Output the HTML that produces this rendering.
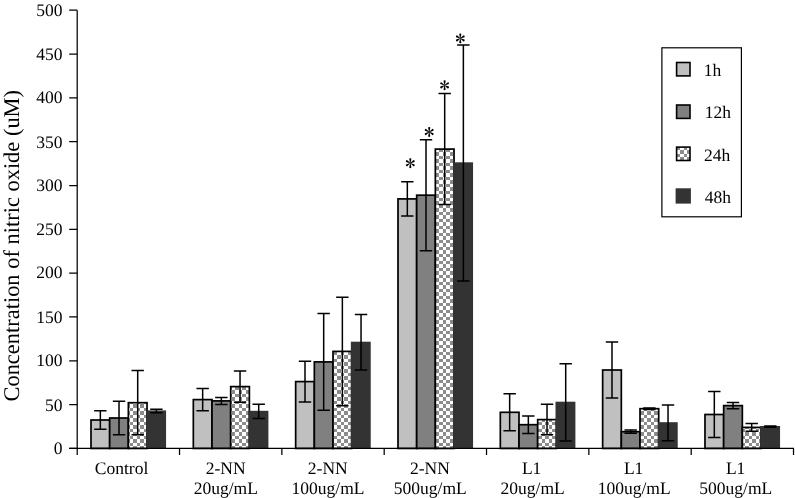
<!DOCTYPE html>
<html><head><meta charset="utf-8"><style>
html,body{margin:0;padding:0;background:#fff;}
body{width:795px;height:498px;overflow:hidden;font-family:"Liberation Serif",serif;}
svg{display:block;will-change:transform;}
text{font-family:"Liberation Serif",serif;fill:#000;text-rendering:geometricPrecision;}
</style></head><body>
<svg width="795" height="498" viewBox="0 0 795 498">
<defs><pattern id="chk0" patternUnits="userSpaceOnUse" x="0" y="5" width="7" height="7"><rect width="7" height="7" fill="#ffffff"/><rect width="4" height="4" fill="#8c8c8c"/><rect x="4" y="4" width="3" height="3" fill="#8c8c8c"/></pattern><pattern id="chk1" patternUnits="userSpaceOnUse" x="4" y="5" width="7" height="7"><rect width="7" height="7" fill="#8c8c8c"/><rect width="4" height="4" fill="#ffffff"/><rect x="4" y="4" width="3" height="3" fill="#ffffff"/></pattern><pattern id="chk2" patternUnits="userSpaceOnUse" x="1" y="5" width="7" height="7"><rect width="7" height="7" fill="#ffffff"/><rect width="4" height="4" fill="#8c8c8c"/><rect x="4" y="4" width="3" height="3" fill="#8c8c8c"/></pattern><pattern id="chk3" patternUnits="userSpaceOnUse" x="5" y="5" width="7" height="7"><rect width="7" height="7" fill="#8c8c8c"/><rect width="4" height="4" fill="#ffffff"/><rect x="4" y="4" width="3" height="3" fill="#ffffff"/></pattern><pattern id="chk4" patternUnits="userSpaceOnUse" x="6" y="5" width="7" height="7"><rect width="7" height="7" fill="#8c8c8c"/><rect width="4" height="4" fill="#ffffff"/><rect x="4" y="4" width="3" height="3" fill="#ffffff"/></pattern><pattern id="chk5" patternUnits="userSpaceOnUse" x="3" y="5" width="7" height="7"><rect width="7" height="7" fill="#ffffff"/><rect width="4" height="4" fill="#8c8c8c"/><rect x="4" y="4" width="3" height="3" fill="#8c8c8c"/></pattern><pattern id="chk6" patternUnits="userSpaceOnUse" x="3" y="5" width="7" height="7"><rect width="7" height="7" fill="#ffffff"/><rect width="4" height="4" fill="#8c8c8c"/><rect x="4" y="4" width="3" height="3" fill="#8c8c8c"/></pattern><pattern id="chkL" patternUnits="userSpaceOnUse" x="1" y="3" width="7" height="7"><rect width="7" height="7" fill="#ffffff"/><rect width="4" height="4" fill="#8c8c8c"/><rect x="4" y="4" width="3" height="3" fill="#8c8c8c"/></pattern></defs>
<rect width="795" height="498" fill="#fff"/>
<rect x="91.00" y="420.00" width="18.68" height="28.45" fill="#c0c0c0" stroke="#000" stroke-width="1.7"/>
<rect x="109.68" y="418.00" width="18.68" height="30.45" fill="#808080" stroke="#000" stroke-width="1.7"/>
<rect x="128.36" y="402.70" width="18.68" height="45.75" fill="url(#chk0)" stroke="#000" stroke-width="1.7"/>
<rect x="146.19" y="410.40" width="19.88" height="38.05" fill="#333333"/>
<rect x="193.33" y="399.60" width="18.68" height="48.85" fill="#c0c0c0" stroke="#000" stroke-width="1.7"/>
<rect x="212.01" y="400.90" width="18.68" height="47.55" fill="#808080" stroke="#000" stroke-width="1.7"/>
<rect x="230.69" y="386.60" width="18.68" height="61.85" fill="url(#chk1)" stroke="#000" stroke-width="1.7"/>
<rect x="248.52" y="410.80" width="19.88" height="37.65" fill="#333333"/>
<rect x="295.66" y="381.60" width="18.68" height="66.85" fill="#c0c0c0" stroke="#000" stroke-width="1.7"/>
<rect x="314.34" y="361.90" width="18.68" height="86.55" fill="#808080" stroke="#000" stroke-width="1.7"/>
<rect x="333.02" y="351.40" width="18.68" height="97.05" fill="url(#chk2)" stroke="#000" stroke-width="1.7"/>
<rect x="350.85" y="341.70" width="19.88" height="106.75" fill="#333333"/>
<rect x="397.99" y="198.90" width="18.68" height="249.55" fill="#c0c0c0" stroke="#000" stroke-width="1.7"/>
<rect x="416.67" y="195.20" width="18.68" height="253.25" fill="#808080" stroke="#000" stroke-width="1.7"/>
<rect x="435.35" y="149.10" width="18.68" height="299.35" fill="url(#chk3)" stroke="#000" stroke-width="1.7"/>
<rect x="453.18" y="162.30" width="19.88" height="286.15" fill="#333333"/>
<rect x="500.32" y="412.30" width="18.68" height="36.15" fill="#c0c0c0" stroke="#000" stroke-width="1.7"/>
<rect x="519.00" y="424.70" width="18.68" height="23.75" fill="#808080" stroke="#000" stroke-width="1.7"/>
<rect x="537.68" y="419.60" width="18.68" height="28.85" fill="url(#chk4)" stroke="#000" stroke-width="1.7"/>
<rect x="555.51" y="401.70" width="19.88" height="46.75" fill="#333333"/>
<rect x="602.65" y="370.00" width="18.68" height="78.45" fill="#c0c0c0" stroke="#000" stroke-width="1.7"/>
<rect x="621.33" y="431.70" width="18.68" height="16.75" fill="#808080" stroke="#000" stroke-width="1.7"/>
<rect x="640.01" y="408.70" width="18.68" height="39.75" fill="url(#chk5)" stroke="#000" stroke-width="1.7"/>
<rect x="657.84" y="422.20" width="19.88" height="26.25" fill="#333333"/>
<rect x="704.98" y="414.50" width="18.68" height="33.95" fill="#c0c0c0" stroke="#000" stroke-width="1.7"/>
<rect x="723.66" y="405.60" width="18.68" height="42.85" fill="#808080" stroke="#000" stroke-width="1.7"/>
<rect x="742.34" y="427.40" width="18.68" height="21.05" fill="url(#chk6)" stroke="#000" stroke-width="1.7"/>
<rect x="760.17" y="426.00" width="19.88" height="22.45" fill="#333333"/>
<path d="M100.34 410.75V429.25M94.14 410.75H106.54M94.14 429.25H106.54" stroke="#000" stroke-width="1.5" fill="none"/>
<path d="M119.02 401.25V434.75M112.82 401.25H125.22M112.82 434.75H125.22" stroke="#000" stroke-width="1.5" fill="none"/>
<path d="M137.70 370.55V434.85M131.50 370.55H143.90M131.50 434.85H143.90" stroke="#000" stroke-width="1.5" fill="none"/>
<path d="M156.38 409.30V412.70M150.18 409.30H162.58M150.18 412.70H162.58" stroke="#000" stroke-width="1.5" fill="none"/>
<path d="M202.67 388.55V410.65M196.47 388.55H208.87M196.47 410.65H208.87" stroke="#000" stroke-width="1.5" fill="none"/>
<path d="M221.35 397.40V404.40M215.15 397.40H227.55M215.15 404.40H227.55" stroke="#000" stroke-width="1.5" fill="none"/>
<path d="M240.03 371.05V402.15M233.83 371.05H246.23M233.83 402.15H246.23" stroke="#000" stroke-width="1.5" fill="none"/>
<path d="M258.71 404.30V418.50M252.51 404.30H264.91M252.51 418.50H264.91" stroke="#000" stroke-width="1.5" fill="none"/>
<path d="M305.00 361.15V402.05M298.80 361.15H311.20M298.80 402.05H311.20" stroke="#000" stroke-width="1.5" fill="none"/>
<path d="M323.68 313.50V410.30M317.48 313.50H329.88M317.48 410.30H329.88" stroke="#000" stroke-width="1.5" fill="none"/>
<path d="M342.36 297.15V405.65M336.16 297.15H348.56M336.16 405.65H348.56" stroke="#000" stroke-width="1.5" fill="none"/>
<path d="M361.04 314.50V370.10M354.84 314.50H367.24M354.84 370.10H367.24" stroke="#000" stroke-width="1.5" fill="none"/>
<path d="M407.33 181.75V216.05M401.13 181.75H413.53M401.13 216.05H413.53" stroke="#000" stroke-width="1.5" fill="none"/>
<path d="M426.01 139.70V250.70M419.81 139.70H432.21M419.81 250.70H432.21" stroke="#000" stroke-width="1.5" fill="none"/>
<path d="M444.69 93.60V204.60M438.49 93.60H450.89M438.49 204.60H450.89" stroke="#000" stroke-width="1.5" fill="none"/>
<path d="M463.37 44.90V280.90M457.17 44.90H469.57M457.17 280.90H469.57" stroke="#000" stroke-width="1.5" fill="none"/>
<path d="M509.66 393.85V430.75M503.46 393.85H515.86M503.46 430.75H515.86" stroke="#000" stroke-width="1.5" fill="none"/>
<path d="M528.34 416.00V433.40M522.14 416.00H534.54M522.14 433.40H534.54" stroke="#000" stroke-width="1.5" fill="none"/>
<path d="M547.02 404.35V434.85M540.82 404.35H553.22M540.82 434.85H553.22" stroke="#000" stroke-width="1.5" fill="none"/>
<path d="M565.70 363.65V440.95M559.50 363.65H571.90M559.50 440.95H571.90" stroke="#000" stroke-width="1.5" fill="none"/>
<path d="M611.99 341.95V398.05M605.79 341.95H618.19M605.79 398.05H618.19" stroke="#000" stroke-width="1.5" fill="none"/>
<path d="M630.67 430.10V433.30M624.47 430.10H636.87M624.47 433.30H636.87" stroke="#000" stroke-width="1.5" fill="none"/>
<path d="M649.35 407.90V409.50M643.15 407.90H655.55M643.15 409.50H655.55" stroke="#000" stroke-width="1.5" fill="none"/>
<path d="M668.03 404.90V440.70M661.83 404.90H674.23M661.83 440.70H674.23" stroke="#000" stroke-width="1.5" fill="none"/>
<path d="M714.32 391.55V437.45M708.12 391.55H720.52M708.12 437.45H720.52" stroke="#000" stroke-width="1.5" fill="none"/>
<path d="M733.00 402.50V408.70M726.80 402.50H739.20M726.80 408.70H739.20" stroke="#000" stroke-width="1.5" fill="none"/>
<path d="M751.68 423.60V431.20M745.48 423.60H757.88M745.48 431.20H757.88" stroke="#000" stroke-width="1.5" fill="none"/>
<path d="M770.36 426.00V427.20M764.16 426.00H776.56M764.16 427.20H776.56" stroke="#000" stroke-width="1.5" fill="none"/>
<path d="M77.2 10.20V455M69.2 448.45H794" stroke="#000" stroke-width="1.25" fill="none"/>
<path d="M69.2 448.45H77.2M69.2 404.62H77.2M69.2 360.80H77.2M69.2 316.98H77.2M69.2 273.15H77.2M69.2 229.32H77.2M69.2 185.50H77.2M69.2 141.68H77.2M69.2 97.85H77.2M69.2 54.03H77.2M69.2 10.20H77.2M179.53 448.45V455M281.86 448.45V455M384.19 448.45V455M486.52 448.45V455M588.85 448.45V455M691.18 448.45V455M793.51 448.45V455" stroke="#000" stroke-width="1.25" fill="none"/>
<g transform="translate(410.3 163.2)" fill="#000"><path d="M-0.18 0L-0.95 -3.55A1.02 1.02 0 1 1 0.95 -3.55L0.18 0Z" transform="rotate(0)"/><path d="M-0.18 0L-0.95 -3.55A1.02 1.02 0 1 1 0.95 -3.55L0.18 0Z" transform="rotate(60)"/><path d="M-0.18 0L-0.95 -3.55A1.02 1.02 0 1 1 0.95 -3.55L0.18 0Z" transform="rotate(120)"/><path d="M-0.18 0L-0.95 -3.55A1.02 1.02 0 1 1 0.95 -3.55L0.18 0Z" transform="rotate(180)"/><path d="M-0.18 0L-0.95 -3.55A1.02 1.02 0 1 1 0.95 -3.55L0.18 0Z" transform="rotate(240)"/><path d="M-0.18 0L-0.95 -3.55A1.02 1.02 0 1 1 0.95 -3.55L0.18 0Z" transform="rotate(300)"/></g>
<g transform="translate(429.2 132.0)" fill="#000"><path d="M-0.18 0L-0.95 -3.55A1.02 1.02 0 1 1 0.95 -3.55L0.18 0Z" transform="rotate(0)"/><path d="M-0.18 0L-0.95 -3.55A1.02 1.02 0 1 1 0.95 -3.55L0.18 0Z" transform="rotate(60)"/><path d="M-0.18 0L-0.95 -3.55A1.02 1.02 0 1 1 0.95 -3.55L0.18 0Z" transform="rotate(120)"/><path d="M-0.18 0L-0.95 -3.55A1.02 1.02 0 1 1 0.95 -3.55L0.18 0Z" transform="rotate(180)"/><path d="M-0.18 0L-0.95 -3.55A1.02 1.02 0 1 1 0.95 -3.55L0.18 0Z" transform="rotate(240)"/><path d="M-0.18 0L-0.95 -3.55A1.02 1.02 0 1 1 0.95 -3.55L0.18 0Z" transform="rotate(300)"/></g>
<g transform="translate(444.6 85.3)" fill="#000"><path d="M-0.18 0L-0.95 -3.55A1.02 1.02 0 1 1 0.95 -3.55L0.18 0Z" transform="rotate(0)"/><path d="M-0.18 0L-0.95 -3.55A1.02 1.02 0 1 1 0.95 -3.55L0.18 0Z" transform="rotate(60)"/><path d="M-0.18 0L-0.95 -3.55A1.02 1.02 0 1 1 0.95 -3.55L0.18 0Z" transform="rotate(120)"/><path d="M-0.18 0L-0.95 -3.55A1.02 1.02 0 1 1 0.95 -3.55L0.18 0Z" transform="rotate(180)"/><path d="M-0.18 0L-0.95 -3.55A1.02 1.02 0 1 1 0.95 -3.55L0.18 0Z" transform="rotate(240)"/><path d="M-0.18 0L-0.95 -3.55A1.02 1.02 0 1 1 0.95 -3.55L0.18 0Z" transform="rotate(300)"/></g>
<g transform="translate(460.3 38.4)" fill="#000"><path d="M-0.18 0L-0.95 -3.55A1.02 1.02 0 1 1 0.95 -3.55L0.18 0Z" transform="rotate(0)"/><path d="M-0.18 0L-0.95 -3.55A1.02 1.02 0 1 1 0.95 -3.55L0.18 0Z" transform="rotate(60)"/><path d="M-0.18 0L-0.95 -3.55A1.02 1.02 0 1 1 0.95 -3.55L0.18 0Z" transform="rotate(120)"/><path d="M-0.18 0L-0.95 -3.55A1.02 1.02 0 1 1 0.95 -3.55L0.18 0Z" transform="rotate(180)"/><path d="M-0.18 0L-0.95 -3.55A1.02 1.02 0 1 1 0.95 -3.55L0.18 0Z" transform="rotate(240)"/><path d="M-0.18 0L-0.95 -3.55A1.02 1.02 0 1 1 0.95 -3.55L0.18 0Z" transform="rotate(300)"/></g>
<rect x="661.9" y="47.8" width="79.5" height="169" fill="none" stroke="#000" stroke-width="1.2"/>
<rect x="676.6" y="62.50" width="13.4" height="13.4" fill="#c0c0c0" stroke="#000" stroke-width="1.6"/>
<rect x="676.6" y="105.00" width="13.4" height="13.4" fill="#808080" stroke="#000" stroke-width="1.6"/>
<rect x="676.6" y="147.10" width="13.4" height="13.4" fill="url(#chkL)" stroke="#000" stroke-width="1.6"/>
<rect x="675.6" y="188.30" width="15.3" height="15.3" fill="#333333"/>
<text x="62.52" y="454.19" font-size="17.5" text-anchor="end">0</text>
<text x="62.52" y="410.64" font-size="17.5" text-anchor="end">50</text>
<text x="62.52" y="366.30" font-size="17.5" text-anchor="end">100</text>
<text x="62.52" y="322.76" font-size="17.5" text-anchor="end">150</text>
<text x="62.52" y="278.41" font-size="17.5" text-anchor="end">200</text>
<text x="62.52" y="234.86" font-size="17.5" text-anchor="end">250</text>
<text x="62.52" y="191.32" font-size="17.5" text-anchor="end">300</text>
<text x="62.52" y="147.78" font-size="17.5" text-anchor="end">350</text>
<text x="62.52" y="103.43" font-size="17.5" text-anchor="end">400</text>
<text x="62.52" y="59.89" font-size="17.5" text-anchor="end">450</text>
<text x="62.52" y="15.54" font-size="17.5" text-anchor="end">500</text>
<text x="121.51" y="474.12" font-size="17.5" text-anchor="middle">Control</text>
<text x="225.62" y="474.12" font-size="17.5" text-anchor="middle">2-NN</text>
<text x="225.76" y="494.44" font-size="17.5" text-anchor="middle">20ug/mL</text>
<text x="327.76" y="474.12" font-size="17.5" text-anchor="middle">2-NN</text>
<text x="328.00" y="494.44" font-size="17.5" text-anchor="middle">100ug/mL</text>
<text x="429.88" y="474.12" font-size="17.5" text-anchor="middle">2-NN</text>
<text x="430.28" y="494.44" font-size="17.5" text-anchor="middle">500ug/mL</text>
<text x="531.64" y="474.12" font-size="17.5" text-anchor="middle">L1</text>
<text x="532.64" y="494.44" font-size="17.5" text-anchor="middle">20ug/mL</text>
<text x="633.66" y="474.12" font-size="17.5" text-anchor="middle">L1</text>
<text x="634.22" y="494.44" font-size="17.5" text-anchor="middle">100ug/mL</text>
<text x="735.64" y="474.12" font-size="17.5" text-anchor="middle">L1</text>
<text x="735.74" y="494.44" font-size="17.5" text-anchor="middle">500ug/mL</text>
<text x="703.64" y="75.80" font-size="17.5" text-anchor="start">1h</text>
<text x="704.68" y="118.30" font-size="17.5" text-anchor="start">12h</text>
<text x="703.94" y="160.58" font-size="17.5" text-anchor="start">24h</text>
<text x="704.74" y="202.82" font-size="17.5" text-anchor="start">48h</text>
<text transform="translate(18.6 245.75) rotate(-90)" font-size="22.45" text-anchor="middle">Concentration of nitric oxide (uM)</text>
</svg>
</body></html>
